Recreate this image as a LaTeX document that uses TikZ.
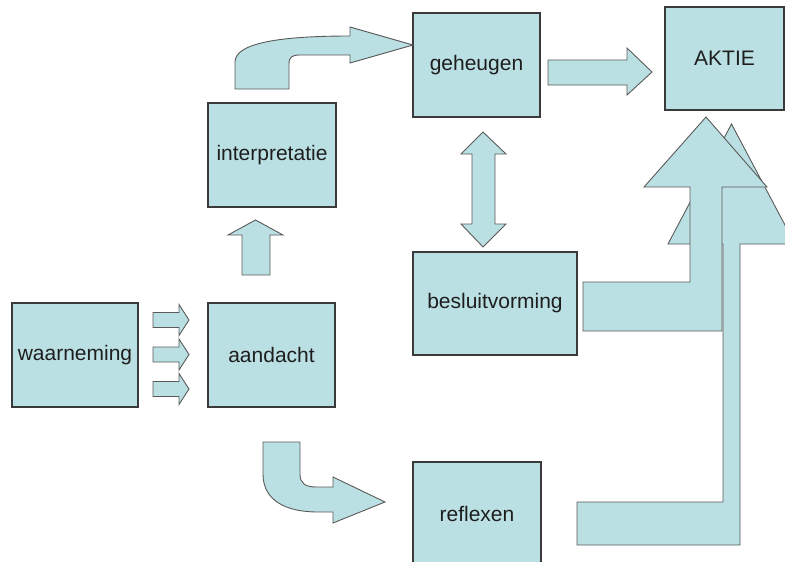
\documentclass[tikz,border=0pt]{standalone}
\usepackage{fontspec}
\setmainfont{Liberation Sans}
\definecolor{ice}{HTML}{BBE0E3}
\definecolor{boxline}{HTML}{3A3A3A}
\definecolor{arrline}{HTML}{5A5A5A}
\definecolor{txt}{HTML}{1E1E1E}
\begin{document}
\begin{tikzpicture}[x=1pt,y=-1pt,
  box/.style={draw=boxline, fill=ice, line width=1.1pt, inner sep=0pt,
    text=txt, font=\fontsize{21}{24}\selectfont},
  blockarrow/.style={draw=arrline, fill=ice, line width=0.9pt, line join=miter}]
\useasboundingbox (0,0) rectangle (785,562);
\clip (0,0) rectangle (785,562);

% boxes
\node[box, minimum width=126pt, minimum height=104pt] (waar) at (75,355) {waarneming};
\node[box, minimum width=127pt, minimum height=104pt] (aand) at (271.5,355) {aandacht};
\node[box, minimum width=128pt, minimum height=104pt] (interp) at (272,155) {interpretatie};
\node[box, minimum width=127pt, minimum height=104pt] (geh) at (476.5,65) {geheugen};
\node[box, minimum width=119pt, minimum height=103pt] (aktie) at (724.5,58.5) {AKTIE};
\node[box, minimum width=164pt, minimum height=103pt] (besl) at (495,303.5) {besluitvorming};
\node[box, minimum width=128pt, minimum height=104pt] (refl) at (477,514) {reflexen};

% three small arrows waarneming -> aandacht
\foreach \c in {320,354.5,389}{
  \draw[blockarrow] (153,\c-7.5) -- (179,\c-7.5) -- (179,\c-15.5) -- (189,\c)
    -- (179,\c+15.5) -- (179,\c+7.5) -- (153,\c+7.5) -- cycle;
}

% aandacht -> interpretatie (up arrow)
\draw[blockarrow] (242,275) -- (242,235) -- (228,235) -- (255.5,220) -- (283,235)
  -- (270,235) -- (270,275) -- cycle;

% interpretatie -> geheugen (bent arrow)
\draw[blockarrow] (235,89) -- (235,62) .. controls (235,42) and (285,36) .. (350,36)
  -- (350,27) -- (413,45) -- (350,63) -- (350,55) -- (300,55)
  .. controls (292,55) and (289,57) .. (289,64) -- (289,89) -- cycle;

% aandacht -> reflexen (bent arrow)
\draw[blockarrow] (263,442) -- (300,442) -- (300,474) .. controls (300,483) and (305,487) .. (316,487)
  -- (333,487) -- (333,477) -- (385,502) -- (333,523) -- (333,512) -- (318,512)
  .. controls (285,512) and (263,500) .. (263,474) -- cycle;

% geheugen <-> besluitvorming
\draw[blockarrow] (483,132) -- (506,154) -- (495,154) -- (495,224) -- (506,224)
  -- (483,247) -- (461,224) -- (472,224) -- (472,154) -- (461,154) -- cycle;

% geheugen -> AKTIE
\draw[blockarrow] (548,60) -- (627,60) -- (627,48) -- (652,72) -- (627,95)
  -- (627,85) -- (548,85) -- cycle;

% reflexen -> AKTIE (big bent arrow, behind)
\draw[blockarrow] (577,502) -- (723,502) -- (723,244) -- (668,244) -- (731.5,124)
  -- (795,244) -- (740,244) -- (740,545) -- (577,545) -- cycle;

% besluitvorming -> AKTIE (big bent arrow, front)
\draw[blockarrow] (583,282) -- (690,282) -- (690,187) -- (644,187) -- (706,117)
  -- (767,187) -- (722,187) -- (722,331) -- (583,331) -- cycle;
\end{tikzpicture}
\end{document}
